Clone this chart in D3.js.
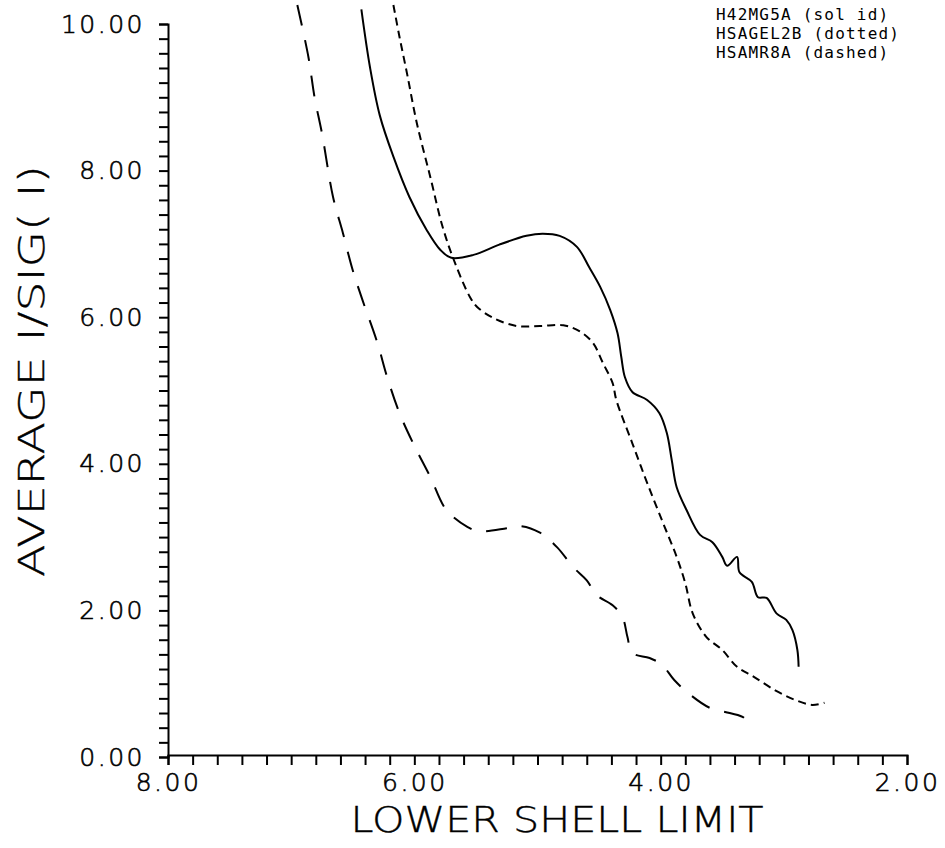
<!DOCTYPE html>
<html>
<head>
  <title>Average I/sig(I) vs lower shell limit</title>
  <script src="https://cdnjs.cloudflare.com/ajax/libs/d3/7.8.5/d3.min.js"></script>
  <style>
  body {
    margin: 0;
    background: #fff;
  }
  svg {
    display: block;
  }
  </style>
</head>
<body>
<script>

// values: lower shell limit (A) and average I/sig(I)
var solidShell = [6.43, 6.36, 6.28, 6.17, 6.04, 5.90, 5.79, 5.70, 5.52, 5.31, 5.09, 4.96, 4.82, 4.68, 4.58, 4.49, 4.41, 4.35, 4.32, 4.29, 4.23, 4.11, 4.01, 3.95, 3.91, 3.87, 3.79, 3.68, 3.58, 3.50, 3.46, 3.38, 3.36, 3.26, 3.21, 3.14, 3.06, 2.98, 2.93, 2.89, 2.88];
var solidValue = [10.20, 9.41, 8.75, 8.19, 7.64, 7.19, 6.92, 6.81, 6.85, 6.99, 7.11, 7.14, 7.11, 6.96, 6.68, 6.41, 6.10, 5.78, 5.46, 5.18, 4.98, 4.87, 4.69, 4.42, 4.05, 3.68, 3.37, 3.03, 2.93, 2.73, 2.61, 2.73, 2.52, 2.39, 2.18, 2.17, 1.96, 1.87, 1.73, 1.46, 1.23];

var dottedShell = [6.17, 6.12, 6.06, 5.98, 5.87, 5.77, 5.67, 5.55, 5.49, 5.36, 5.17, 4.98, 4.79, 4.66, 4.55, 4.47, 4.39, 4.36, 4.23, 4.11, 3.98, 3.87, 3.80, 3.74, 3.63, 3.50, 3.38, 3.24, 3.07, 2.91, 2.77, 2.67];
var dottedValue = [10.26, 9.82, 9.33, 8.65, 7.91, 7.23, 6.74, 6.28, 6.14, 5.99, 5.88, 5.88, 5.89, 5.81, 5.65, 5.38, 5.10, 4.87, 4.28, 3.74, 3.19, 2.73, 2.37, 1.96, 1.64, 1.46, 1.23, 1.09, 0.91, 0.78, 0.71, 0.74];

var dashedShell = [6.95, 6.86, 6.81, 6.75, 6.66, 6.58, 6.50, 6.42, 6.30, 6.22, 6.12, 6.01, 5.87, 5.74, 5.57, 5.47, 5.25, 5.14, 4.98, 4.84, 4.71, 4.60, 4.52, 4.39, 4.31, 4.27, 4.23, 4.09, 3.99, 3.89, 3.76, 3.60, 3.44, 3.32, 3.28];
var dashedValue = [10.26, 9.55, 9.00, 8.51, 7.64, 7.15, 6.64, 6.23, 5.65, 5.18, 4.69, 4.28, 3.82, 3.37, 3.14, 3.08, 3.12, 3.15, 3.06, 2.86, 2.59, 2.41, 2.21, 2.07, 1.91, 1.64, 1.42, 1.35, 1.26, 1.05, 0.85, 0.67, 0.60, 0.53, 0.37];

var xMajorTicks = [8, 6, 4, 2];
var yMajorTicks = [0, 2, 4, 6, 8, 10];
var legendLabels = ["H42MG5A (sol id)", "HSAGEL2B (dotted)", "HSAMR8A (dashed)"];
var xTitle = "LOWER SHELL LIMIT";
var yTitle = "AVERAGE I/SIG( I)";

var outerWidth = 945;
var outerHeight = 848;
var PLOT = {left: 168, right: 907, top: 24, bottom: 757};
var plotterFont = "'DejaVu Sans', sans-serif";
var legendFont = "'DejaVu Sans Mono', monospace";

var graph = d3.select("body").append("svg")
        .attr("width", outerWidth)
        .attr("height", outerHeight);

var xScale = d3.scaleLinear()
        .domain([8, 2])
        .range([PLOT.left, PLOT.right]);

var yScale = d3.scaleLinear()
        .domain([0, 10])
        .range([PLOT.bottom, PLOT.top]);

function isMajor(list, d) {
  return list.some(function(t) { return Math.abs(t - d) < 1e-6; });
}

// minor ticks every 0.2, labels only on the majors
var xAxis = d3.axisBottom(xScale)
        .tickValues(d3.range(0, 31).map(function(i) { return 8 - i / 5; }))
        .tickSize(10)
        .tickSizeOuter(10)
        .tickPadding(8)
        .tickFormat(function(d) { return isMajor(xMajorTicks, d) ? d3.format(".2f")(d) : ""; });

var yAxis = d3.axisLeft(yScale)
        .tickValues(d3.range(0, 51).map(function(i) { return i / 5; }))
        .tickSize(9)
        .tickSizeOuter(9)
        .tickPadding(14)
        .tickFormat(function(d) { return isMajor(yMajorTicks, d) ? d3.format(".2f")(d) : ""; });

var xAxisGroup = graph.append("g")
        .attr("class", "xAxis")
        .attr("transform", "translate(0, " + (PLOT.bottom - 2) + ")")
        .call(xAxis);

var yAxisGroup = graph.append("g")
        .attr("class", "yAxis")
        .attr("transform", "translate(" + PLOT.left + ", 0)")
        .call(yAxis);

[xAxisGroup, yAxisGroup].forEach(function(g) {
  g.attr("font-family", plotterFont)
   .attr("font-weight", 200)
   .attr("font-size", 25);
  g.select(".domain").attr("stroke", "#000").attr("stroke-width", 2);
  g.selectAll(".tick line").attr("stroke", "#000").attr("stroke-width", 2);
  g.selectAll(".tick text")
   .attr("fill", "#000")
   .attr("stroke", "#000")
   .attr("stroke-width", 0.6)
   .attr("letter-spacing", 2.5);
});

// the three curves
var line = d3.line()
        .x(function(d) { return xScale(d[0]); })
        .y(function(d) { return yScale(d[1]); })
        .curve(d3.curveCatmullRom.alpha(0.5));

var series = [
  {shell: solidShell, value: solidValue, dash: null},
  {shell: dottedShell, value: dottedValue, dash: "8,5"},
  {shell: dashedShell, value: dashedValue, dash: "21,15"}
];

graph.selectAll("path.curve")
        .data(series)
        .enter().append("path")
        .attr("class", "curve")
        .attr("d", function(s) { return line(d3.zip(s.shell, s.value)); })
        .attr("fill", "none")
        .attr("stroke", "#000")
        .attr("stroke-width", 2)
        .attr("stroke-dasharray", function(s) { return s.dash; });

// legend text, top right
graph.selectAll("text.legend")
        .data(legendLabels)
        .enter().append("text")
        .attr("class", "legend")
        .attr("x", 716)
        .attr("y", function(d, i) { return 20 + i * 18.8; })
        .attr("font-family", legendFont)
        .attr("font-size", 16)
        .attr("letter-spacing", 1.2)
        .attr("fill", "#000")
        .text(function(d) { return d; });

// axis titles
graph.append("text")
        .attr("x", 557)
        .attr("y", 832)
        .attr("text-anchor", "middle")
        .attr("font-family", plotterFont)
        .attr("font-weight", 200)
        .attr("font-size", 36)
        .attr("textLength", 413)
        .attr("lengthAdjust", "spacingAndGlyphs")
        .attr("fill", "#000")
        .attr("stroke", "#000")
        .attr("stroke-width", 0.4)
        .text(xTitle);

graph.append("text")
        .attr("transform", "translate(44, 371) rotate(-90)")
        .attr("text-anchor", "middle")
        .attr("font-family", plotterFont)
        .attr("font-weight", 200)
        .attr("font-size", 36)
        .attr("textLength", 412)
        .attr("lengthAdjust", "spacingAndGlyphs")
        .attr("fill", "#000")
        .attr("stroke", "#000")
        .attr("stroke-width", 0.4)
        .text(yTitle);

</script>
</body>
</html>
